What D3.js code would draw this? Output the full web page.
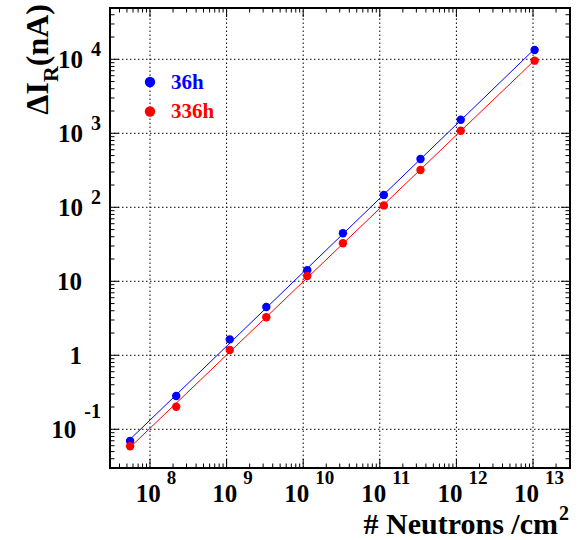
<!DOCTYPE html>
<html>
<head>
<meta charset="utf-8">
<script src="https://cdn.jsdelivr.net/npm/d3@7"></script>
<style>
  body { margin: 0; background: #fff; }
  text { font-family: "Liberation Serif", "Times New Roman", serif; font-weight: bold; }
</style>
</head>
<body>
<svg id="chart"></svg>
<script>
let width = 584;
let height = 540;
let margin = {"top": 8, "bottom": 72, "left": 110, "right": 14};

// neutron fluence (n/cm^2) and reverse current increase (nA)
const fluence = [5.5e7, 2.2e8, 1.1e9, 3.3e9, 1.13e10, 3.3e10, 1.13e11, 3.4e11, 1.14e12, 1.05e13];
const current36h = [0.0695, 0.282, 1.64, 4.5, 14.1, 44.6, 147, 450, 1527, 13360];
const current336h = [0.0589, 0.202, 1.18, 3.27, 11.8, 32.7, 106, 319, 1084, 9580];
const seriesNames = ["36h", "336h"];
const seriesColors = ["#0000ff", "#ff0000"];

const xTickValues = [1e8, 1e9, 1e10, 1e11, 1e12, 1e13];
const xTickLabels = [["10", "8"], ["10", "9"], ["10", "10"], ["10", "11"], ["10", "12"], ["10", "13"]];
const yTickValues = [0.1, 1, 10, 100, 1000, 10000];
const yTickLabels = [["10", "-1"], ["1", ""], ["10", ""], ["10", "2"], ["10", "3"], ["10", "4"]];

let svg = d3.select("#chart")
    .attr("width", width)
    .attr("height", height);

let x = d3.scaleLog()
    .domain([Math.pow(10, 7.478), Math.pow(10, 13.483)])
    .range([margin.left, width - margin.right]);
let y = d3.scaleLog()
    .domain([Math.pow(10, -1.523), Math.pow(10, 4.693)])
    .range([height - margin.bottom, margin.top]);

let x0 = margin.left, x1 = width - margin.right;
let y0 = height - margin.bottom, y1 = margin.top;

// grid
svg.append("g").selectAll("line")
    .data(xTickValues)
    .enter().append("line")
    .attr("x1", d => x(d)).attr("x2", d => x(d))
    .attr("y1", y0).attr("y2", y1)
    .style("stroke", "#000")
    .style("stroke-width", 1)
    .style("stroke-dasharray", "1.5,2.5");
svg.append("g").selectAll("line")
    .data(yTickValues)
    .enter().append("line")
    .attr("x1", x0).attr("x2", x1)
    .attr("y1", d => y(d)).attr("y2", d => y(d))
    .style("stroke", "#000")
    .style("stroke-width", 1)
    .style("stroke-dasharray", "1.5,2.5");

// minor + major ticks on all four sides, pointing inward
function logTicks(scale){
    let dom = scale.domain();
    let out = [];
    for(let e = Math.floor(Math.log10(dom[0])); e <= Math.ceil(Math.log10(dom[1])); e++){
        for(let k = 1; k < 10; k++){
            let v = k * Math.pow(10, e);
            if(v >= dom[0] && v <= dom[1]){ out.push({v: v, major: k == 1}); }
        }
    }
    return out;
}
let ticks = svg.append("g").style("stroke", "#000").style("stroke-width", 1);
logTicks(x).forEach(function(t){
    let len = t.major ? 9 : 4.5;
    ticks.append("line").attr("x1", x(t.v)).attr("x2", x(t.v)).attr("y1", y0).attr("y2", y0 - len);
    ticks.append("line").attr("x1", x(t.v)).attr("x2", x(t.v)).attr("y1", y1).attr("y2", y1 + len);
});
logTicks(y).forEach(function(t){
    let len = t.major ? 9 : 4.5;
    ticks.append("line").attr("x1", x0).attr("x2", x0 + len).attr("y1", y(t.v)).attr("y2", y(t.v));
    ticks.append("line").attr("x1", x1).attr("x2", x1 - len).attr("y1", y(t.v)).attr("y2", y(t.v));
});

// frame
svg.append("rect")
    .attr("x", x0).attr("y", y1)
    .attr("width", x1 - x0).attr("height", y0 - y1)
    .style("fill", "none")
    .style("stroke", "#000")
    .style("stroke-width", 2);

// x tick labels
let xl = svg.append("g").selectAll("text")
    .data(xTickValues)
    .enter().append("text")
    .attr("x", d => x(d) + 6)
    .attr("y", 502)
    .style("text-anchor", "middle")
    .style("font-size", "25px");
xl.append("tspan").text((d, i) => xTickLabels[i][0]);
xl.append("tspan")
    .attr("dx", 6).attr("dy", -18)
    .style("font-size", "19px")
    .text((d, i) => xTickLabels[i][1]);

// y tick labels
let yl = svg.append("g").selectAll("text")
    .data(yTickValues)
    .enter().append("text")
    .attr("x", (d, i) => yTickLabels[i][1] ? 101 : 82)
    .attr("y", d => y(d) + 9)
    .style("text-anchor", "end")
    .style("font-size", "25px");
yl.append("tspan").text((d, i) => yTickLabels[i][0]);
yl.filter((d, i) => yTickLabels[i][1] != "")
    .append("tspan")
    .attr("dx", 8)
    .attr("dy", d => d < 1 ? -20 : -12)
    .style("font-size", "20px")
    .text(d => yTickLabels[yTickValues.indexOf(d)][1]);

// axis titles
let xt = svg.append("text")
    .attr("x", 569)
    .attr("y", 534)
    .style("text-anchor", "end")
    .style("font-size", "30px");
xt.append("tspan").text("# Neutrons /cm");
xt.append("tspan").attr("dx", 1).attr("dy", -14).style("font-size", "20px").text("2");

let yt = svg.append("text")
    .attr("transform", "translate(48,4) rotate(-90)")
    .style("text-anchor", "end")
    .style("font-size", "32px");
yt.append("tspan").text("ΔI");
yt.append("tspan").attr("dy", 10).style("font-size", "22px").text("R");
yt.append("tspan").attr("dy", -10).text("(nA)");

// fit lines (least squares in log-log) and points
function fitLine(xs, ys){
    let lx = xs.map(Math.log10), ly = ys.map(Math.log10);
    let mx = d3.mean(lx), my = d3.mean(ly);
    let b = d3.sum(lx, (v, i) => (v - mx) * (ly[i] - my)) / d3.sum(lx, v => (v - mx) * (v - mx));
    let a = my - b * mx;
    let ends = d3.extent(xs);
    return ends.map(v => [v, Math.pow(10, a + b * Math.log10(v))]);
}

let series = [current36h, current336h];
series.forEach(function(vals, s){
    let line = d3.line().x(d => x(d[0])).y(d => y(d[1]));
    svg.append("path")
        .attr("d", line(fitLine(fluence, vals)))
        .style("fill", "none")
        .style("stroke", seriesColors[s])
        .style("stroke-width", 1);
    svg.append("g").selectAll("circle")
        .data(vals)
        .enter().append("circle")
        .attr("cx", (d, i) => x(fluence[i]))
        .attr("cy", d => y(d))
        .attr("r", 4.2)
        .style("fill", seriesColors[s]);
});

// legend
let legend = svg.append("g").selectAll("g")
    .data(seriesNames)
    .enter().append("g")
    .attr("transform", (d, i) => `translate(150, ${82 + i * 29.5})`);
legend.append("circle")
    .attr("r", 5.2)
    .style("fill", (d, i) => seriesColors[i]);
legend.append("text")
    .attr("x", 21)
    .attr("y", 6.5)
    .style("font-size", "21px")
    .style("fill", (d, i) => seriesColors[i])
    .text(d => d);
</script>
</body>
</html>
